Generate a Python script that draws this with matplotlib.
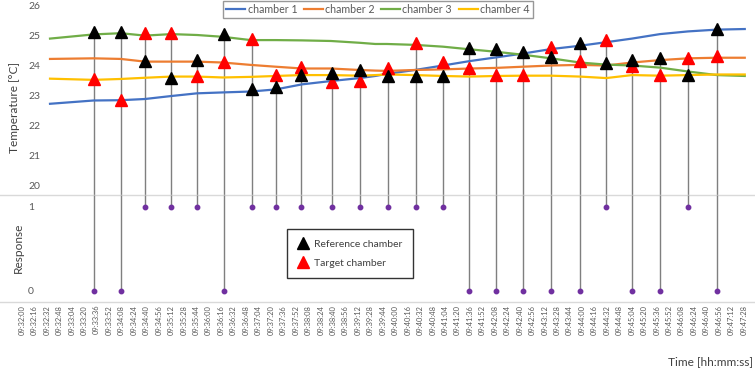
import matplotlib
matplotlib.use("Agg")
import matplotlib.pyplot as plt
from matplotlib.lines import Line2D

plt.rcParams['font.family'] = ['Lato', 'DejaVu Sans']

# ---------------- data ----------------
START = "09:32:00"
tick_step_s = 16
n_ticks = 59

# temperature curves: sample times (s after 09:32:00) and values
curve_seconds = [36, 92, 127, 158, 192, 225, 258, 294, 326, 360, 397, 434, 454, 469,
                 505, 541, 576, 609, 644, 680, 717, 751, 784, 820, 856, 893, 929]
chamber1 = [22.72, 22.83, 22.84, 22.88, 22.98, 23.07, 23.10, 23.13, 23.20, 23.37, 23.48, 23.58, 23.65, 23.72,
            23.85, 24.00, 24.15, 24.27, 24.40, 24.55, 24.66, 24.78, 24.90, 25.05, 25.14, 25.20, 25.22]
chamber2 = [24.22, 24.24, 24.22, 24.13, 24.13, 24.13, 24.10, 24.02, 23.96, 23.90, 23.90, 23.85, 23.83, 23.82,
            23.85, 23.87, 23.90, 23.92, 23.96, 24.00, 24.02, 24.00, 24.10, 24.18, 24.24, 24.26, 24.26]
chamber3 = [24.90, 25.04, 25.08, 25.00, 25.05, 25.02, 24.96, 24.85, 24.85, 24.84, 24.82, 24.76, 24.72, 24.72,
            24.69, 24.63, 24.54, 24.46, 24.36, 24.24, 24.10, 24.03, 24.00, 23.93, 23.80, 23.68, 23.65]
chamber4 = [23.56, 23.52, 23.55, 23.59, 23.63, 23.63, 23.60, 23.62, 23.65, 23.68, 23.68, 23.66, 23.68, 23.70,
            23.68, 23.65, 23.63, 23.65, 23.66, 23.66, 23.63, 23.58, 23.68, 23.66, 23.68, 23.70, 23.70]

# test events
event_times = ["09:33:33", "09:34:07", "09:34:38", "09:35:12", "09:35:45", "09:36:19",
               "09:36:55", "09:37:27", "09:37:59", "09:38:38", "09:39:14", "09:39:50",
               "09:40:26", "09:41:01", "09:41:35", "09:42:09", "09:42:44", "09:43:20",
               "09:43:57", "09:44:31", "09:45:04", "09:45:40", "09:46:16", "09:46:53"]
reference_temp = [25.12, 25.12, 24.14, 23.59, 24.18, 25.04, 23.21, 23.27, 23.67, 23.74, 23.86, 23.64,
                  23.64, 23.64, 24.58, 24.56, 24.45, 24.28, 24.74, 24.07, 24.20, 24.24, 23.68, 25.23]
target_temp = [23.55, 22.86, 25.10, 25.10, 23.64, 24.11, 24.87, 23.68, 23.96, 23.45, 23.48, 23.93,
               24.76, 24.11, 23.91, 23.67, 23.67, 24.63, 24.14, 24.85, 23.99, 23.68, 24.25, 24.31]
response = [0, 0, 1, 1, 1, 0, 1, 1, 1, 1, 1, 1, 1, 1, 0, 0, 0, 0, 0, 1, 0, 0, 1, 0]


def to_sec(s):
    h, m, x = map(int, s.split(':'))
    h0, m0, x0 = map(int, START.split(':'))
    return (h * 3600 + m * 60 + x) - (h0 * 3600 + m0 * 60 + x0)


def fmt(sec):
    h0, m0, x0 = map(int, START.split(':'))
    t = h0 * 3600 + m0 * 60 + x0 + sec
    return f"{t // 3600:02d}:{(t % 3600) // 60:02d}:{t % 60:02d}"


ev_s = [to_sec(t) for t in event_times]
tick_pos = [i * tick_step_s for i in range(n_ticks)]
tick_labels = [fmt(s) for s in tick_pos]

# ---------------- figure ----------------
W, H = 755, 371
fig = plt.figure(figsize=(W / 100, H / 100), dpi=100)

def fy(px):
    return 1 - px / H

ax_t = fig.add_axes([0, fy(195), 1, (195 - 5.7) / H])
ax_r = fig.add_axes([0, fy(302), 1, (302 - 195) / H])

px_per_s = 0.778
xlim = (-22 / px_per_s, (W - 22) / px_per_s)
t_lim = (19.67, 26.0)
r_lim = (-0.135, 1.14)

text_gray = '#595959'
for ax in (ax_t, ax_r):
    ax.set_xlim(*xlim)
    for s in ('top', 'right', 'left'):
        ax.spines[s].set_visible(False)
    ax.spines['bottom'].set_color('#d9d9d9')
    ax.spines['bottom'].set_linewidth(1.0)
    ax.set_facecolor('none')

ax_t.set_ylim(*t_lim)
ax_r.set_ylim(*r_lim)

# stems
top_vals = [max(a, b) for a, b in zip(reference_temp, target_temp)]
ax_t.vlines(ev_s, t_lim[0], top_vals, colors='#7f7f7f', linewidth=1.0, zorder=1)
ax_r.vlines(ev_s, response, r_lim[1], colors='#7f7f7f', linewidth=1.0, zorder=1)
ax_r.plot(ev_s, response, 'o', color='#7030A0', ms=3.2, zorder=3, clip_on=False)

# curves
l1, = ax_t.plot(curve_seconds, chamber1, color='#4472C4', lw=1.6, zorder=2, label='chamber 1')
l2, = ax_t.plot(curve_seconds, chamber2, color='#ED7D31', lw=1.6, zorder=2, label='chamber 2')
l3, = ax_t.plot(curve_seconds, chamber3, color='#70AD47', lw=1.6, zorder=2, label='chamber 3')
l4, = ax_t.plot(curve_seconds, chamber4, color='#FFC000', lw=1.6, zorder=2, label='chamber 4')

ax_t.plot(ev_s, target_temp, '^', color='#FF0000', ms=8.5, ls='none', zorder=4, clip_on=False)
ax_t.plot(ev_s, reference_temp, '^', color='#000000', ms=8.5, ls='none', zorder=5, clip_on=False)

# ticks
ax_t.set_yticks([20, 21, 22, 23, 24, 25, 26])
ax_t.tick_params(axis='y', length=0, pad=-40 * 0.72, labelsize=7.5, labelcolor=text_gray)
ax_t.tick_params(axis='x', length=0, labelbottom=False)
ax_r.set_yticks([0, 1])
ax_r.tick_params(axis='y', length=0, pad=-34 * 0.72, labelsize=7.5, labelcolor=text_gray)
ax_r.set_xticks(tick_pos)
ax_r.set_xticklabels(tick_labels, rotation=90, fontsize=5.4, color=text_gray)
ax_r.tick_params(axis='x', length=0, pad=2)

# axis labels
fig.text(15 / W, fy(107), 'Temperature [°C]', rotation=90, ha='center', va='center',
         fontsize=8.6, color='#404040')
fig.text(18 / W, fy(248), 'Response', rotation=90, ha='center', va='center',
         fontsize=8.6, color='#404040')
fig.text(753 / W, fy(362), 'Time [hh:mm:ss]', ha='right', va='center',
         fontsize=8.6, color='#404040')

# legends
leg1 = fig.legend(handles=[l1, l2, l3, l4], loc='upper left',
                  bbox_to_anchor=(223 / W, fy(1)), ncol=4, frameon=True, fancybox=False,
                  fontsize=7.7, handlelength=1.8, handletextpad=0.2, columnspacing=0.6,
                  borderpad=0.3, borderaxespad=0)
leg1.get_frame().set_edgecolor('#7f7f7f')
leg1.get_frame().set_linewidth(1.0)
for t in leg1.get_texts():
    t.set_color(text_gray)

h_ref = Line2D([], [], marker='^', color='black', ls='none', ms=9)
h_tgt = Line2D([], [], marker='^', color='#FF0000', ls='none', ms=9)
leg2 = fig.legend(handles=[h_ref, h_tgt], labels=['Reference chamber', 'Target chamber'],
                  loc='upper left', bbox_to_anchor=(287 / W, fy(229)), frameon=True,
                  fancybox=False, fontsize=7.5, handlelength=1.0, handletextpad=0.6,
                  borderpad=1.0, labelspacing=0.95, borderaxespad=0)
leg2.get_frame().set_edgecolor('#000000')
leg2.get_frame().set_linewidth(1.0)
for t in leg2.get_texts():
    t.set_color('#404040')

fig.savefig('out.png', dpi=100)
